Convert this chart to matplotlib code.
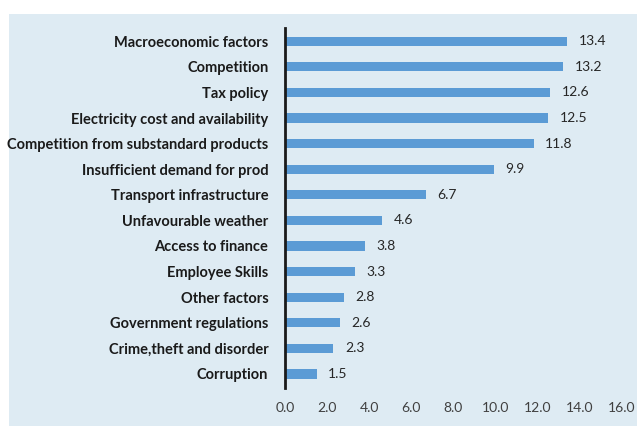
import matplotlib.pyplot as plt
from matplotlib.patches import Rectangle

categories = ['Macroeconomic factors', 'Competition', 'Tax policy',
              'Electricity cost and availability',
              'Competition from substandard products',
              'Insufficient demand for prod', 'Transport infrastructure',
              'Unfavourable weather', 'Access to finance', 'Employee Skills',
              'Other factors', 'Government regulations',
              'Crime,theft and disorder', 'Corruption']
values = [13.4, 13.2, 12.6, 12.5, 11.8, 9.9, 6.7, 4.6, 3.8, 3.3, 2.8, 2.6, 2.3, 1.5]
xticks = [0, 2, 4, 6, 8, 10, 12, 14, 16]

plt.rcParams['font.family'] = ['Lato', 'DejaVu Sans']

fig = plt.figure(figsize=(6.37, 4.26), dpi=100)
fig.patch.set_facecolor('white')
# light blue panel behind the chart
fig.patches.append(Rectangle((9 / 637, 0), 1, 1 - 14 / 426,
                             transform=fig.transFigure, facecolor='#deebf3',
                             edgecolor='none', zorder=-10))

ax = fig.add_axes([285 / 637, 1 - 388 / 426, (622 - 285) / 637, 360 / 426])
ax.set_facecolor('none')

pos = list(range(len(categories)))
ax.barh(pos, values, height=0.36, color='#5b9bd5', zorder=2)
for p, v in zip(pos, values):
    ax.text(v + 0.55, p, f'{v:.1f}', va='center', ha='left',
            fontsize=10, color='#262626')

ax.set_xlim(0, 16)
ax.set_ylim(13.55, -0.52)
ax.set_yticks(pos)
ax.set_yticklabels(categories, fontsize=10.5, fontweight='bold', color='#1a1a1a')
ax.set_xticks(xticks)
ax.set_xticklabels([f'{t:.1f}' for t in xticks], fontsize=10, color='#404040')
ax.tick_params(axis='both', length=0)
ax.tick_params(axis='y', pad=12)
ax.tick_params(axis='x', pad=10)

for s in ['top', 'right', 'bottom']:
    ax.spines[s].set_visible(False)
ax.spines['left'].set_linewidth(2)
ax.spines['left'].set_color('#1a1a1a')

fig.savefig('out.png', dpi=100)
